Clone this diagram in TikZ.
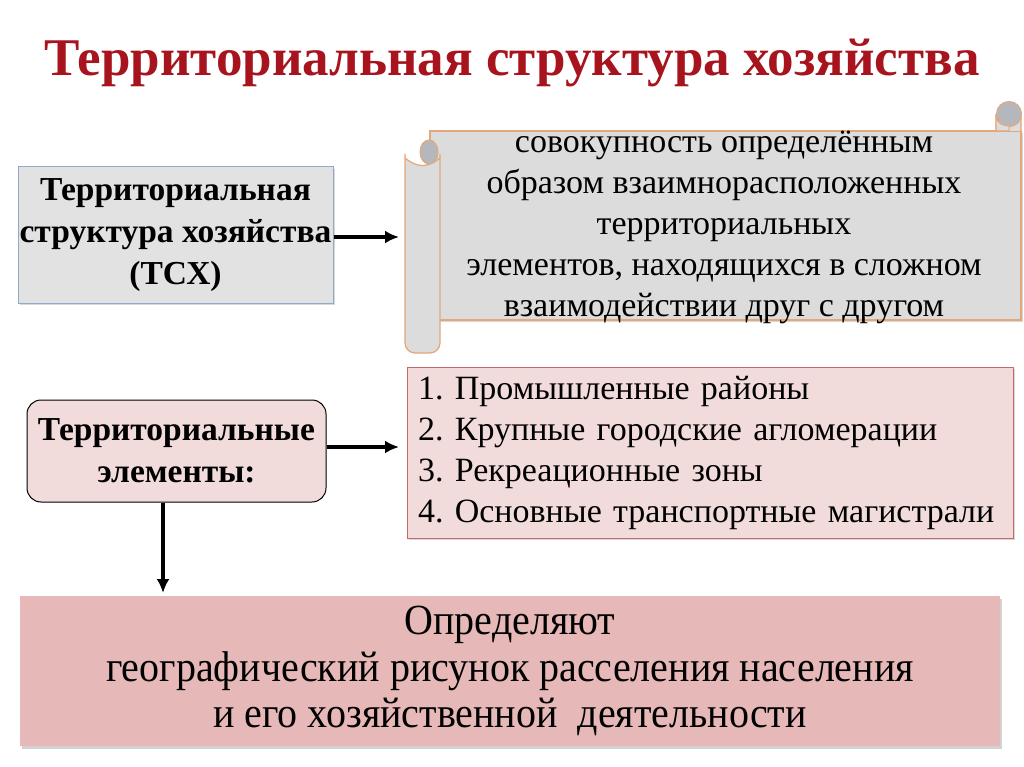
\documentclass[tikz,border=0pt]{standalone}
\usepackage{fontspec}
\setmainfont{Liberation Serif}
\newfontfamily\narrowserif[FakeStretch=0.93]{Liberation Serif}
\usetikzlibrary{arrows.meta,positioning,shadows}

\definecolor{titlered}{HTML}{A8141E}
\definecolor{boxgray}{HTML}{E2E2E2}
\definecolor{boxblue}{HTML}{8FAACB}
\definecolor{scrollgray}{HTML}{DCDCDC}
\definecolor{curlgray}{HTML}{B4B8BC}
\definecolor{scrolledge}{HTML}{E2A77A}
\definecolor{lightpink}{HTML}{F2DCDB}
\definecolor{listedge}{HTML}{C66A66}
\definecolor{darkpink}{HTML}{E6B9B8}

\tikzset{
  arr/.style={line width=3.5pt,-{Latex[length=14pt,width=13pt]}},
  scrollpart/.style={fill=scrollgray,draw=scrolledge,line width=1.2pt},
  boldtext/.style={font=\fontsize{33.5}{42}\selectfont\bfseries,align=center},
  plaintext/.style={font=\fontsize{34}{41}\selectfont},
}

\begin{document}
\begin{tikzpicture}[x=1pt,y=-1pt]
	\useasboundingbox[fill=white] (0,0) rectangle (1024,767);

	% title
	\node[text=titlered,font=\fontsize{53}{53}\selectfont\bfseries] (title) at (512,63) {Территориальная структура хозяйства};

	% left boxes
	\node[boldtext,fill=boxgray,draw=boxblue,line width=1pt,inner xsep=0pt,minimum width=315pt,minimum height=136pt,drop shadow={shadow xshift=2pt,shadow yshift=-2pt,opacity=0.3}] (tsx) at (175.5,235) {Территориальная\\структура хозяйства\\(ТСХ)};
	\node[boldtext,fill=lightpink,draw=black,line width=1pt,rounded corners=14pt,minimum width=299pt,minimum height=102pt] (tel) at (176.5,451) {Территориальные\\элементы:};

	% scroll
	\draw[scrollpart,drop shadow={shadow xshift=2pt,shadow yshift=-2pt,opacity=0.3}] (430,131) rectangle (1021,320);
	\draw[scrollpart] (996,131) -- (996,114) arc (180:0:12.5) -- (1021,131);
	\filldraw[fill=curlgray,draw=scrolledge,line width=1pt] (1009,114) circle (12.5);
	\draw[scrolledge,line width=1pt,fill=scrollgray] (996,114) .. controls (996,124) and (1004,126) .. (1009,126) -- (1009,131) -- (996,131) -- cycle;
	\draw[scrollpart,rounded corners=10pt] (405,148) arc (180:0:17.5) -- (440,353) -- (405,353) -- cycle;
	\filldraw[fill=curlgray,draw=scrolledge,line width=1pt] (429,152) ellipse (9 and 12);
	\node[plaintext,align=center] (defn) at (724,227.5) {совокупность определённым\\образом взаимнорасположенных\\территориальных\\элементов, находящихся в сложном\\взаимодействии друг с другом};
	\coordinate (scrollin) at (399,237);

	% list of elements
	\node[plaintext,align=left,fill=lightpink,draw=listedge,line width=0.8pt,inner xsep=11pt,text width=584pt,minimum height=171pt,drop shadow={shadow xshift=2pt,shadow yshift=-2pt,opacity=0.3}] (list) at (710,452.5) {1.~Промышленные районы\\2.~Крупные городские агломерации\\3.~Рекреационные зоны\\4.~Основные транспортные магистрали};
	\coordinate (listin) at (399,447);

	% bottom box
	\node[fill=darkpink,minimum width=980pt,minimum height=150pt,align=center,font=\narrowserif\fontsize{43}{46.5}\selectfont,drop shadow={shadow xshift=2pt,shadow yshift=-3pt,opacity=0.35}] (effect) at (510,671) {Определяют\\географический рисунок расселения населения\\и его хозяйственной\ \ деятельности};
	\coordinate (downend) at (163,593);

	\draw[arr] (tsx.east |- scrollin) -- (scrollin);
	\draw[arr] (tel.east |- listin) -- (listin);
	\draw[arr] (tel.south -| downend) -- (downend);
\end{tikzpicture}
\end{document}
